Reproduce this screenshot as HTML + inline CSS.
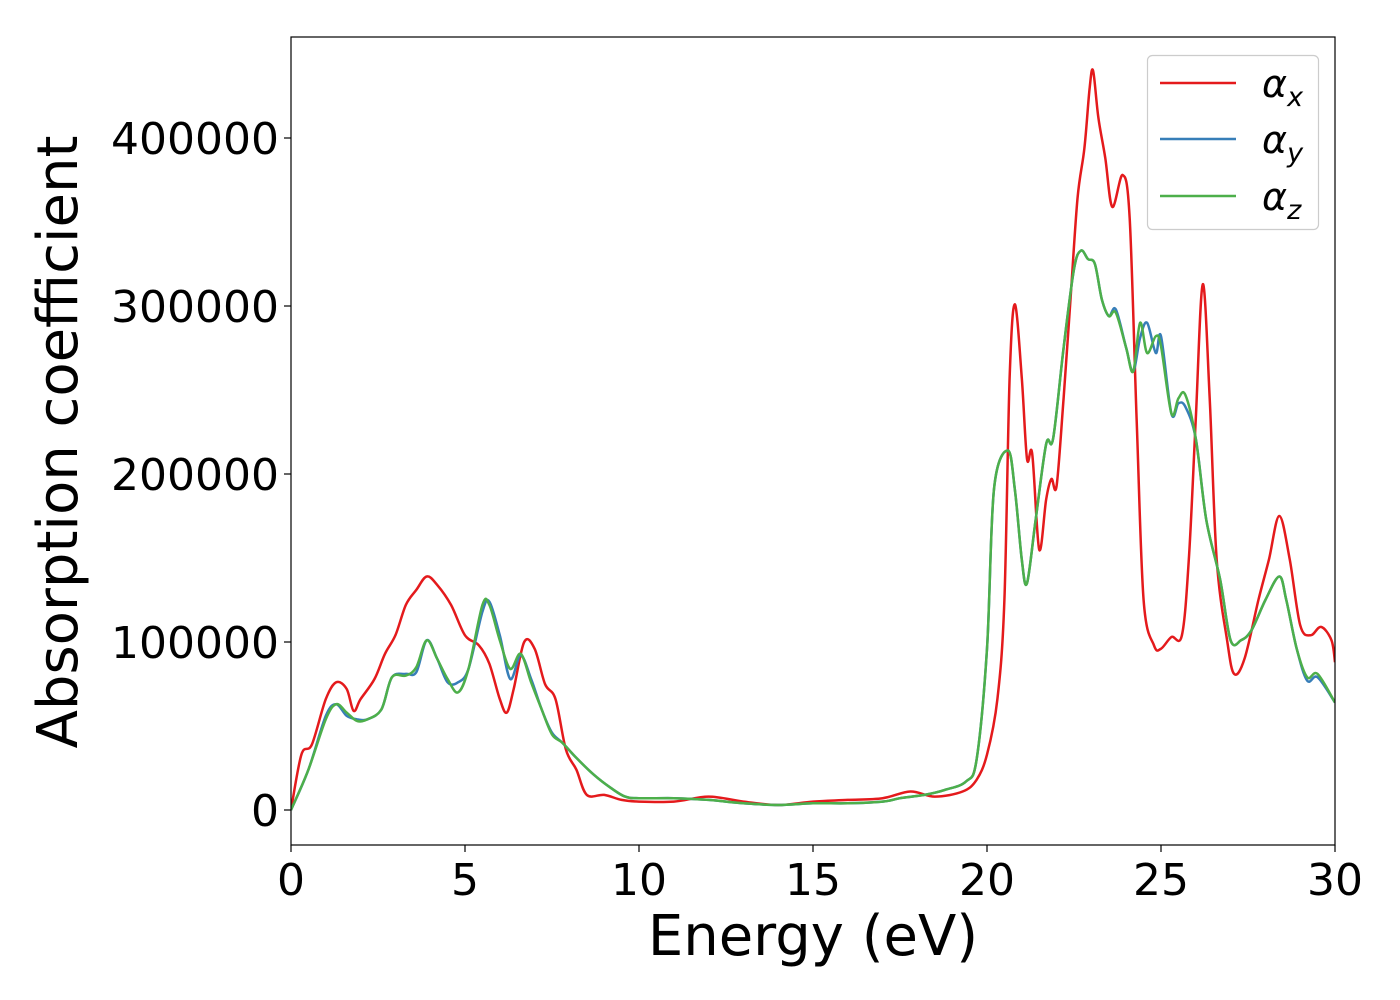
<!DOCTYPE html>
<html><head><meta charset="utf-8"><style>
html,body{margin:0;padding:0;background:#fff;}
svg{display:block;font-family:"DejaVu Sans","Liberation Sans",sans-serif;}
</style></head><body>
<svg id="chart" width="1400" height="1000" viewBox="0 0 1400 1000">
<g id="plot"></g>
</svg>
<script>
const energyX=[0,0.3,0.6,1.0,1.3,1.6,1.8,2.0,2.4,2.7,3.0,3.3,3.6,3.9,4.2,4.6,5.0,5.4,5.7,6.0,6.2,6.4,6.7,7.0,7.3,7.6,7.9,8.2,8.5,9.0,9.5,10,11,12,13,14,15,16,17,17.8,18.5,19.3,19.7,20.0,20.3,20.5,20.65,20.8,21.0,21.15,21.3,21.5,21.7,21.85,22.0,22.2,22.4,22.6,22.8,22.95,23.05,23.2,23.4,23.6,23.9,24.1,24.3,24.5,24.8,25.0,25.3,25.6,25.8,26.0,26.2,26.4,26.6,26.9,27.1,27.4,27.8,28.1,28.4,28.7,29.0,29.3,29.6,29.9,30];
const alphaX=[0,33,39,66,76,72,59,66,78,93,104,122,131,139,134,122,104,98,87,66,58,72,100,96,75,66,36,24,9,9,6,5,5,8,5,3,5,6,7,11,8,11,18,33,66,125,257,301,257,209,212,155,185,197,193,245,304,364,394,430,440,412,388,359,378,352,233,125,98,96,103,104,149,233,313,245,149,101,81,90,125,149,175,149,110,104,109,101,88];
const energyYZ=[0,0.5,1.0,1.3,1.6,1.9,2.2,2.6,2.9,3.3,3.6,3.9,4.2,4.5,4.8,5.1,5.5,5.7,6.0,6.3,6.6,6.9,7.2,7.5,7.8,8.2,8.7,9.2,9.6,10,11,12,13,14,15,16,17,17.5,18.2,18.8,19.4,19.7,20.0,20.2,20.6,20.8,21.0,21.15,21.4,21.7,21.9,22.2,22.5,22.7,22.9,23.1,23.3,23.5,23.7,24.0,24.2,24.4,24.6,24.85,25.0,25.3,25.5,25.7,26.0,26.3,26.7,27.0,27.3,27.6,28.0,28.4,28.6,28.9,29.2,29.5,30];
const alphaY=[0,24,56,63,56,54,54,60,79,81,82,101,90,76,76,84,118,124,104,78,92,78,60,46,40,31,21,13,8,7,7,6,4,3,4,4,5,7,9,12,17,30,96,191,214,191,149,135,173,218,221,275,322,333,328,325,304,294,298,275,261,281,290,272,282,236,242,240,221,173,137,101,101,107,125,139,125,96,77,79,64];
const alphaZ=[0,24,54,63,58,53,54,60,79,80,85,101,90,78,70,84,122,122,101,84,93,76,60,45,40,31,21,13,8,7,7,6,4,3,4,4,5,7,9,12,17,30,96,191,214,191,149,135,173,218,221,275,322,333,328,325,304,294,296,275,261,290,272,282,276,236,245,247,221,173,137,101,101,107,125,139,125,96,79,81,64];
const xTicks=[0,5,10,15,20,25,30];
const yTicks=[0,100000,200000,300000,400000];

const L=291,R=1335,T=37,B=845;
const xs=v=>L+(v-0)*(R-L)/30;
const Y0=810,PPK=1.68; // px per thousand
const ys=v=>Y0-v*PPK/1000;
const NS="http://www.w3.org/2000/svg";
const svg=document.getElementById('chart');
const plot=document.getElementById('plot');
function mk(tag,attrs,parent){const e=document.createElementNS(NS,tag);for(const k in attrs)e.setAttribute(k,attrs[k]);(parent||svg).appendChild(e);return e;}

const clip=mk('clipPath',{id:'clp'});
mk('rect',{x:L,y:T,width:R-L,height:B-T},clip);

function pathFor(ex,vals){
  const p=ex.map((e,i)=>[xs(e),ys(vals[i]*1000)]);
  let d='M'+p[0][0]+','+p[0][1];
  for(let i=0;i<p.length-1;i++){
    const p0=p[i-1]||p[i],p1=p[i],p2=p[i+1],p3=p[i+2]||p2;
    const c1x=p1[0]+(p2[0]-p0[0])/6,c1y=p1[1]+(p2[1]-p0[1])/6;
    const c2x=p2[0]-(p3[0]-p1[0])/6,c2y=p2[1]-(p3[1]-p1[1])/6;
    d+=` C${c1x.toFixed(1)},${c1y.toFixed(1)} ${c2x.toFixed(1)},${c2y.toFixed(1)} ${p2[0].toFixed(1)},${p2[1].toFixed(1)}`;
  }
  return d;
}
const series=[[energyX,alphaX,'#e41a1c','alpha-x-line'],[energyYZ,alphaY,'#377eb8','alpha-y-line'],[energyYZ,alphaZ,'#4daf4a','alpha-z-line']];
series.forEach(s=>{
  const el=mk('path',{d:pathFor(s[0],s[1]),fill:'none',stroke:s[2],'stroke-width':2.5,'clip-path':'url(#clp)'},plot);
  
  
});

// axes frame
const fr=mk('rect',{x:L,y:T,width:R-L,height:B-T,fill:'none',stroke:'#000','stroke-width':1.2});



xTicks.forEach(t=>{
  const tk=mk('line',{x1:xs(t),x2:xs(t),y1:B,y2:B+7,stroke:'#000','stroke-width':1.2});
  
  
  const tx=mk('text',{x:xs(t),y:B+50,'text-anchor':'middle','font-size':44});
  tx.textContent=t;
  
  
});
yTicks.forEach(t=>{
  const tk=mk('line',{x1:L-7,x2:L,y1:ys(t),y2:ys(t),stroke:'#000','stroke-width':1.2});
  
  
  const tx=mk('text',{x:L-12,y:ys(t)+16,'text-anchor':'end','font-size':44});
  tx.textContent=t;
  
  
});
const xt=mk('text',{x:813,y:955,'text-anchor':'middle','font-size':56});
xt.textContent='Energy (eV)';


const yt=mk('text',{x:0,y:0,'text-anchor':'middle','font-size':56,transform:'translate(77,442) rotate(-90)'});
yt.textContent='Absorption coefficient';



// legend
const lg=mk('g',{});


mk('rect',{x:1147.5,y:55.5,width:171,height:174,rx:5,fill:'#fff','fill-opacity':0.8,stroke:'#ccc','stroke-width':1.2},lg);
const labs=[['x','#e41a1c',83],['y','#377eb8',139],['z','#4daf4a',196]];
labs.forEach(l=>{
  const g=mk('g',{},lg);
  
  
  mk('line',{x1:1160,x2:1236,y1:l[2],y2:l[2],stroke:l[1],'stroke-width':2.5},g);
  const t=mk('text',{x:1262,y:l[2]+14,'font-size':38,'font-style':'italic'},g);
  t.textContent='α';
  const s=mk('tspan',{dy:9,'font-size':27},t);
  s.textContent=l[0];
});
</script>
</body></html>
